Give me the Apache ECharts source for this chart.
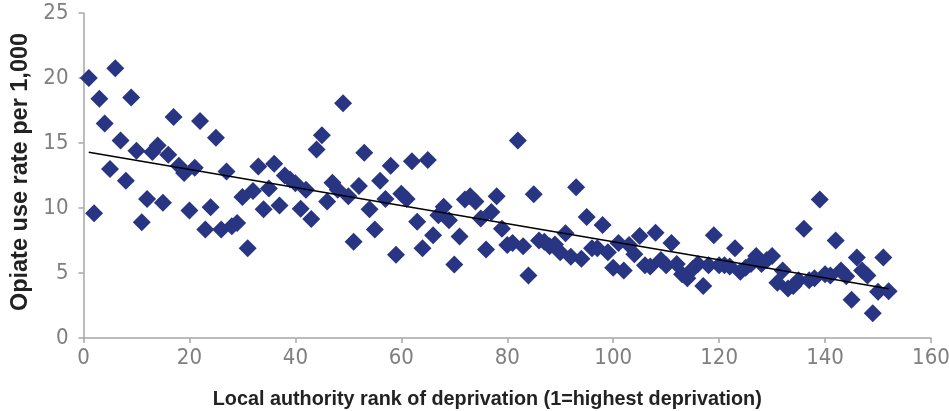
<!DOCTYPE html>
<html><head><meta charset="utf-8">
<script src="https://cdn.jsdelivr.net/npm/echarts@6/dist/echarts.min.js"></script>
<style>html,body{margin:0;padding:0;background:#fff}#c{width:949px;height:411px}</style>
</head><body><div id="c"></div>
<script>
const ranks = [1,2,3,4,5,6,7,8,9,10,11,12,13,14,15,16,17,18,19,20,21,22,23,24,25,26,27,28,29,30,31,32,33,34,35,36,37,38,39,40,41,42,43,44,45,46,47,48,49,50,51,52,53,54,55,56,57,58,59,60,61,62,63,64,65,66,67,68,69,70,71,72,73,74,75,76,77,78,79,80,81,82,83,84,85,86,87,88,89,90,91,92,93,94,95,96,97,98,99,100,101,102,103,104,105,106,107,108,109,110,111,112,113,114,115,116,117,118,119,120,121,122,123,124,125,126,127,128,129,130,131,132,133,134,135,136,137,138,139,140,141,142,143,144,145,146,147,148,149,150,151,152];
const rates = [20.0,9.6,18.4,16.5,13.0,20.75,15.2,12.1,18.5,14.4,8.9,10.7,14.3,14.8,10.4,14.1,17.0,13.25,12.7,9.8,13.1,16.7,8.35,10.05,15.4,8.35,12.8,8.6,8.85,10.85,6.9,11.3,13.2,9.9,11.5,13.4,10.2,12.5,12.2,11.9,9.95,11.4,9.15,14.5,15.6,10.5,11.95,11.4,18.05,10.9,7.4,11.7,14.25,9.9,8.35,12.1,10.7,13.25,6.4,11.1,10.7,13.6,8.95,6.9,13.7,7.9,9.45,10.1,9.05,5.65,7.8,10.65,10.9,10.5,9.2,6.8,9.7,10.9,8.4,7.15,7.3,15.2,7.05,4.8,11.05,7.5,7.4,7.05,7.2,6.6,8.05,6.25,11.6,6.1,9.3,6.9,6.9,8.7,6.6,5.4,7.3,5.2,7.15,6.45,7.85,5.6,5.5,8.1,6.0,5.6,7.3,5.7,4.9,4.6,5.3,5.7,4.0,5.6,7.9,5.6,5.6,5.5,6.9,5.1,5.4,5.7,6.3,5.7,6.0,6.3,4.25,5.2,3.8,4.0,4.45,8.4,4.45,4.6,10.65,4.9,4.8,7.5,5.2,4.75,2.95,6.2,5.2,4.8,1.9,3.55,6.2,3.6];
const trendX = [1, 152];
const trendY = [14.28, 3.78];
const xTitle = 'Local authority rank of deprivation (1=highest deprivation)';
const yTitle = 'Opiate use rate per 1,000';

const chart = echarts.init(document.getElementById('c'), null, {renderer: 'canvas'});
const axisGray = '#a6a6a6';
const labelGray = '#7f7f7f';
const font = '"Liberation Sans", Arial, sans-serif';
const narrow = '"Liberation Sans Narrow", "DejaVu Sans Condensed", Arial, sans-serif';
chart.setOption({
  animation: false,
  grid: {left: 83.5, right: 18, top: 13, bottom: 73, containLabel: false, outerBoundsMode: 'none'},
  xAxis: {
    type: 'value', min: 0, max: 160, interval: 20,
    name: xTitle, nameLocation: 'middle', nameGap: 52,
    nameTextStyle: {fontFamily: font, fontWeight: 'bold', fontSize: 19.8, color: '#222', padding: [0, 40, 0, 0]},
    axisLine: {show: true, lineStyle: {color: axisGray, width: 1.5}},
    axisTick: {show: true, length: 5, lineStyle: {color: axisGray, width: 1.5}},
    axisLabel: {fontFamily: narrow, fontSize: 22, color: labelGray, margin: 9},
    splitLine: {show: false}
  },
  yAxis: {
    type: 'value', min: 0, max: 25, interval: 5,
    name: yTitle, nameLocation: 'middle', nameGap: 50, nameRotate: 90,
    nameTextStyle: {fontFamily: font, fontWeight: 'bold', fontSize: 23.5, color: '#222', padding: [0, 0, 0, 7]},
    axisLine: {show: true, lineStyle: {color: axisGray, width: 1.5}},
    axisTick: {show: true, length: 5, lineStyle: {color: axisGray, width: 1.5}},
    axisLabel: {fontFamily: narrow, fontSize: 22, color: labelGray, margin: 15},
    splitLine: {show: false}
  },
  series: [
    {
      type: 'scatter',
      symbol: 'diamond',
      symbolSize: 18,
      itemStyle: {color: '#283583', opacity: 1},
      data: ranks.map((r, i) => [r, rates[i]]),
      z: 2
    },
    {
      type: 'line',
      data: trendX.map((x, i) => [x, trendY[i]]),
      symbol: 'none',
      lineStyle: {color: '#000', width: 1.5},
      z: 5
    }
  ]
});
</script>
</body></html>
